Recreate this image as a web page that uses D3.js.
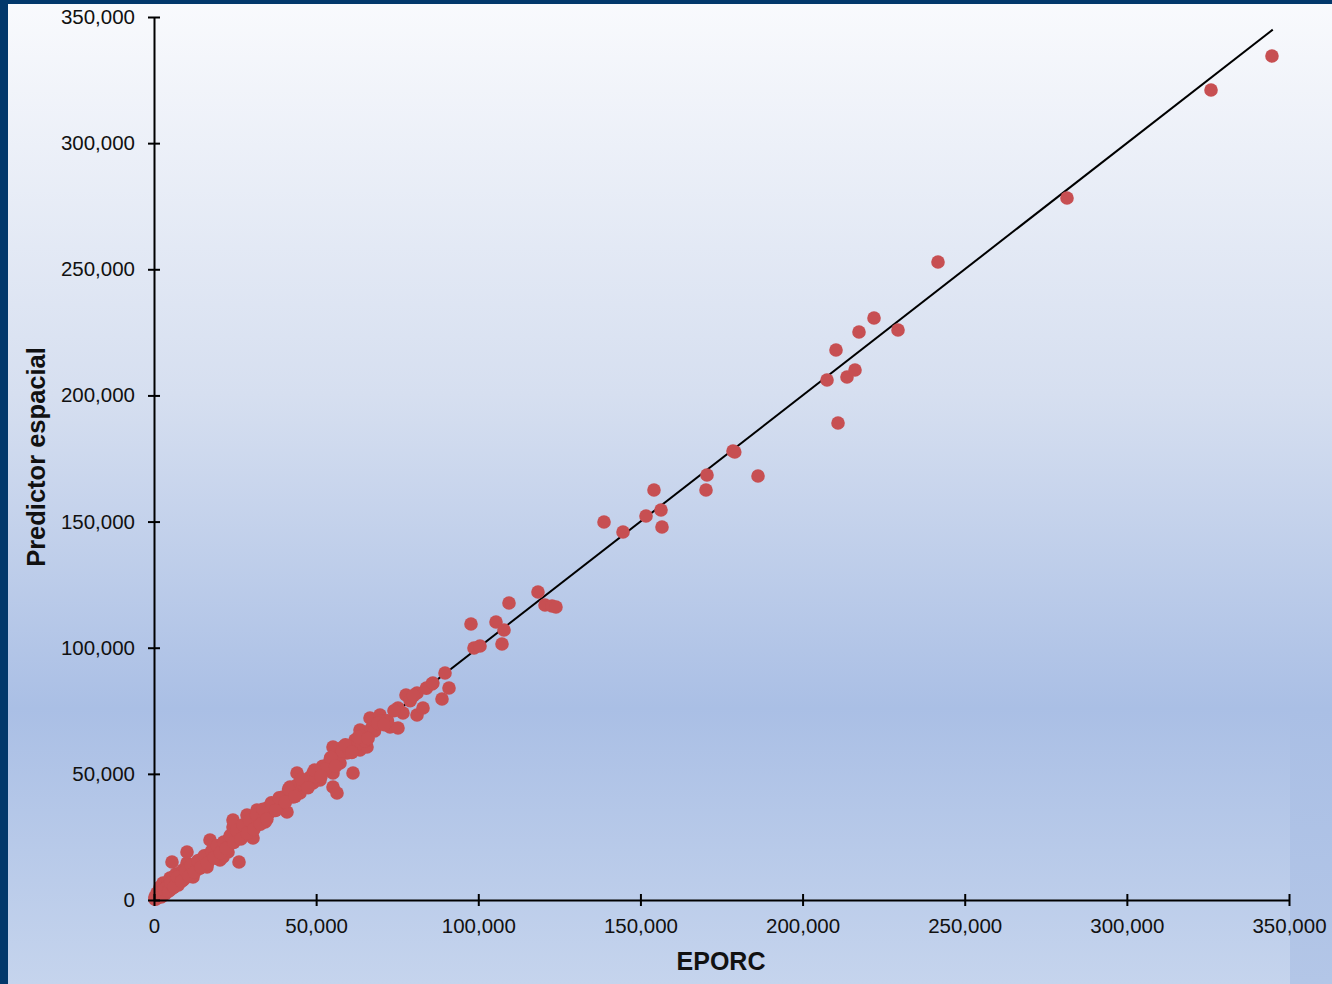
<!DOCTYPE html>
<html><head><meta charset="utf-8">
<script src="https://cdn.jsdelivr.net/npm/d3@7"></script>
<style>html,body{margin:0;padding:0;background:#fff;}svg{display:block;}</style>
</head><body>
<svg id="chart" width="1332" height="984"></svg>
<script>
// Data (values in units)
const xTicks = [0, 50000, 100000, 150000, 200000, 250000, 300000, 350000];
const yTicks = [0, 50000, 100000, 150000, 200000, 250000, 300000, 350000];
const xTitle = "EPORC";
const yTitle = "Predictor espacial";
const lineStart = 0, lineEnd = 345000;

// EPORC (x) values
const eporc = [
  300,300,900,1200,1850,1850,2780,2780,3700,4000,4320,4930,4930,5550,5860,6480,6780,8020,8020,8940,8940,
  10180,10180,10480,11100,12030,12640,12950,14190,14800,16340,17270,17270,18190,18810,20350,20970,21280,
  22510,22820,24360,24360,25290,26210,26520,28060,28680,29600,30530,31150,31760,32690,34230,35150,35770,
  37310,37930,39780,39780,41010,41940,42860,44100,45020,46560,47180,49030,49030,51190,53350,54270,55200,
  55200,56430,55200,57360,58280,59520,61370,61980,63520,63520,65680,66610,69690,72780,75240,75240,76780,
  77710,81100,81100,82950,85730,88810,89740,90970,98680,100530,97750,105460,107930,107310,109470,118410,
  120570,122730,123960,138770,144630,151720,154180,156340,156650,170220,170530,178550,179100,186260,
  207540,210310,210930,213700,216170,217400,222030,229430,241760,281540,325950,344750,
  1000,2000,2500,3000,3500,4000,5000,5500,6000,7000,7500,8000,9000,9500,10000,11000,12000,13000,14000,
  15000,16000,17000,18000,19000,20000,21000,22000,23000,24000,25000,26000,27000,28000,29000,30000,31000,
  32000,33000,34000,35000,36000,37000,38000,39000,40000,42000,43000,44000,46000,48000,50000,52000,53000,
  57000,58000,60000,62000,64000,65000,67000,68000,70000,72000,74000,79000,80000,84000,86000,
  600,1500,2200,3200,4500,5200,6200,7200,8500,9800,10800,11500,12500,13500,14500,15500,16500,17800,18500,
  19500,20500,21500,22300,23500,24600,25500,26800,27500,28800,29500,30800,31600,32800,33600,34800,36200,
  37500,38600,40500,41500,43500,45500,47500,49500,51500,54500,56000,59000,61000,63000,66000,69000,71000
];
// Predictor espacial (y) values
const predictor = [
  300,1200,2800,2000,3570,5150,4760,6740,5550,3960,7130,6740,8720,15060,9120,7930,10310,10700,8720,7930,11890,
  14670,19030,12680,9910,9120,11890,14270,15860,13480,13080,23780,17440,18630,16650,15860,19820,17040,
  22990,19030,28940,31710,24580,15060,27750,26950,33690,28540,24580,30920,35670,31710,30920,34880,35670,
  37660,38450,36860,40830,34880,44790,40830,50340,42410,45580,44790,50340,46380,47570,52720,55490,50340,
  44790,42410,60650,54300,60650,58270,50340,63420,67380,59460,60650,72140,73330,68570,68180,76110,74120,
  81260,82050,73330,76110,85620,79670,89980,84030,99890,100680,109400,110190,107020,101470,117730,122090,
  116930,116540,116140,149830,145870,152210,162520,154590,147850,162520,168460,177970,177600,168070,
  206120,218010,189070,207310,210080,225140,230690,225940,252890,278260,321070,334540,
  1500,2500,1500,4000,2500,5000,4000,6500,5000,8000,6000,9500,8000,11000,9000,12500,11000,13000,12500,
  16000,15000,18000,17000,20000,19000,22000,21000,24000,23000,26000,25000,28500,27000,30000,29000,32500,
  31000,34000,33000,36500,35000,38000,37000,40000,39000,43000,42000,45500,46000,48500,49000,53000,52000,
  57000,59000,60000,61000,65000,63000,68000,67000,71000,71000,75000,79000,81000,84000,86000,
  400,2400,1200,4200,3500,6800,5200,9000,7500,11500,9500,13800,11000,15500,13000,17500,14500,19500,16800,
  21500,18800,23000,20500,25500,22800,27500,24200,29800,26500,31500,28000,33800,30000,36000,32000,38500,
  35500,40500,38800,44000,41000,47800,44500,51500,49000,56500,53000,61500,58500,64500,64000,70000,69500
];

const W = 1332, H = 984;
const svg = d3.select("#chart");
const defs = svg.append("defs");

const bg = defs.append("linearGradient").attr("id","bg").attr("x1",0).attr("y1",0).attr("x2",0).attr("y2",1);
bg.append("stop").attr("offset","0%").attr("stop-color","#f9fafd");
bg.append("stop").attr("offset","40%").attr("stop-color","#d6dff0");
bg.append("stop").attr("offset","72%").attr("stop-color","#aabfe5");
bg.append("stop").attr("offset","100%").attr("stop-color","#c5d4ed");

const bg2 = defs.append("linearGradient").attr("id","bg2").attr("x1",0).attr("y1",0).attr("x2",0).attr("y2",1);
bg2.append("stop").attr("offset","0%").attr("stop-color","#f9fafd");
bg2.append("stop").attr("offset","40%").attr("stop-color","#d6dff0");
bg2.append("stop").attr("offset","72%").attr("stop-color","#aabfe5");
bg2.append("stop").attr("offset","100%").attr("stop-color","#b3c6e7");

svg.append("rect").attr("x",0).attr("y",0).attr("width",W).attr("height",H).attr("fill","url(#bg)");
svg.append("rect").attr("x",1290).attr("y",0).attr("width",W-1290).attr("height",H).attr("fill","url(#bg2)");
// dark frame
svg.append("rect").attr("x",0).attr("y",0).attr("width",W).attr("height",4).attr("fill","#02386b");
svg.append("rect").attr("x",0).attr("y",0).attr("width",8).attr("height",H).attr("fill","#02386b");

const x = d3.scaleLinear().domain([0,350000]).range([154,1289]);
const y = d3.scaleLinear().domain([0,350000]).range([900,17]);
const fmt = d3.format(",");

// 1:1 line
svg.append("line")
  .attr("x1",x(lineStart)).attr("y1",y(lineStart))
  .attr("x2",x(lineEnd)).attr("y2",y(lineEnd))
  .attr("stroke","#000").attr("stroke-width",2);

// points
const pts = eporc.map((v,i)=>({x:v,y:predictor[i]}));
svg.append("g").selectAll("circle").data(pts).join("circle")
  .attr("cx",d=>x(d.x)).attr("cy",d=>y(d.y)).attr("r",6.8)
  .attr("fill","#c74f52");

// axes
const font = "'Liberation Sans', Arial, sans-serif";
const gx = svg.append("g").attr("transform","translate(0,900)")
  .call(d3.axisBottom(x).tickValues(xTicks).tickFormat(fmt).tickSizeOuter(0).tickSizeInner(6).tickPadding(12));
const gy = svg.append("g").attr("transform","translate(154,0)")
  .call(d3.axisLeft(y).tickValues(yTicks).tickFormat(fmt).tickSizeOuter(0).tickSizeInner(6).tickPadding(13));
[gx,gy].forEach(g=>{
  g.select(".domain").attr("stroke","#000").attr("stroke-width",2);
  g.selectAll(".tick text").attr("font-family",font).attr("font-size","20.5px").attr("fill","#111");
});
gx.selectAll(".tick line").attr("y1",-6).attr("y2",6).attr("stroke","#000").attr("stroke-width",2);
gy.selectAll(".tick line").attr("x1",-6).attr("x2",6).attr("stroke","#000").attr("stroke-width",2);
gx.selectAll(".tick text").attr("dy","0.72em");

// titles
svg.append("text").attr("x",721).attr("y",970).attr("text-anchor","middle")
  .attr("font-family",font).attr("font-weight","bold").attr("font-size","25px").attr("fill","#111")
  .text(xTitle);
svg.append("text").attr("transform","translate(45,457) rotate(-90)").attr("text-anchor","middle")
  .attr("font-family",font).attr("font-weight","bold").attr("font-size","25.5px").attr("fill","#111")
  .text(yTitle);
</script>
</body></html>
